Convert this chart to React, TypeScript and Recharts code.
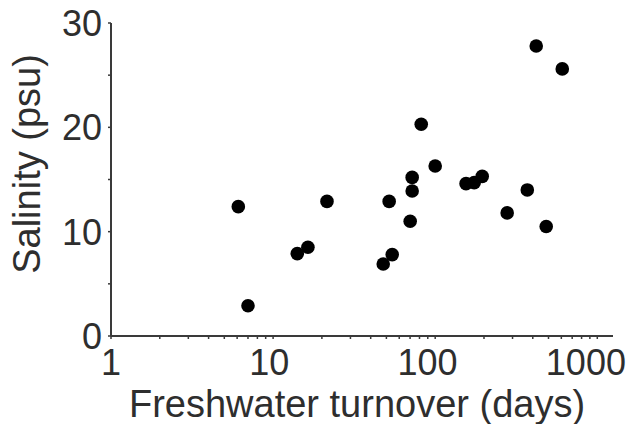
import { ScatterChart, Scatter, XAxis, YAxis } from "recharts";

const turnoverDays = [
  6.1, 7.0, 14.1, 16.4, 21.5, 47.8, 54.3, 52.0, 72.1, 72.1, 70.1, 82.0, 100, 155, 174, 195, 278,
  370, 484, 420, 608,
];
const salinityPsu = [
  12.4, 2.9, 7.9, 8.5, 12.9, 6.9, 7.8, 12.9, 15.2, 13.9, 11.0, 20.3, 16.3, 14.6, 14.7, 15.3, 11.8,
  14.0, 10.5, 27.8, 25.6,
];

const xTicks = [
  1, 2, 3, 4, 5, 6, 7, 8, 9, 10, 20, 30, 40, 50, 60, 70, 80, 90, 100, 200, 300, 400, 500, 600, 700,
  800, 900, 1000,
];
const xLabelled = [1, 10, 100, 1000];
const yTicks = [0, 5, 10, 15, 20, 25, 30];
const yLabelled = [0, 10, 20, 30];

const points = turnoverDays.map((d, i) => ({ days: d, psu: salinityPsu[i] }));

const FONT = '"Liberation Sans", Arial, sans-serif';
const INK = "#2e2e2e";
const AXIS = "#3a3a3a";

// eslint-disable-next-line @typescript-eslint/no-explicit-any
const XTick = (props: any) => {
  const { x, y, payload } = props;
  const v = payload.value;
  // labels in the original sit a little left of their ticks, more so further right
  const shift = -3.8 * Math.log10(v);
  return (
    <g>
      <line x1={x} x2={x} y1={y} y2={y + 3} stroke={AXIS} strokeWidth={1.5} />
      {xLabelled.includes(v) && (
        <text x={x + shift} y={y + 39} textAnchor="middle" fontSize={36} fill={INK} fontFamily={FONT}>
          {v}
        </text>
      )}
    </g>
  );
};

// eslint-disable-next-line @typescript-eslint/no-explicit-any
const YTick = (props: any) => {
  const { x, y, payload } = props;
  const v = payload.value;
  return (
    <g>
      <line x1={x} x2={x - 3} y1={y} y2={y} stroke={AXIS} strokeWidth={1.5} />
      {yLabelled.includes(v) && (
        <text x={x - 9} y={y + 13} textAnchor="end" fontSize={36} fill={INK} fontFamily={FONT}>
          {v}
        </text>
      )}
    </g>
  );
};

export default function App() {
  return (
    <div style={{ width: 631, height: 424, background: "#fff" }}>
      <style>{"body{margin:0}"}</style>
      <ScatterChart width={631} height={424} margin={{ top: 23, right: 18, bottom: 0, left: 0 }}>
        <XAxis
          dataKey="days"
          type="number"
          scale="log"
          domain={[1, 1250]}
          allowDataOverflow
          ticks={xTicks}
          interval={0}
          height={88}
          tickSize={0}
          tickMargin={0}
          tickLine={false}
          axisLine={{ stroke: AXIS, strokeWidth: 2 }}
          tick={XTick}
          label={{
            content: () => (
              <text x={357} y={417} textAnchor="middle" fontSize={38} fill={INK} fontFamily={FONT}>
                Freshwater turnover (days)
              </text>
            ),
          }}
        />
        <YAxis
          dataKey="psu"
          type="number"
          domain={[0, 30]}
          ticks={yTicks}
          interval={0}
          width={111}
          tickSize={0}
          tickMargin={0}
          tickLine={false}
          axisLine={{ stroke: AXIS, strokeWidth: 2 }}
          tick={YTick}
          label={{
            content: () => (
              <text
                x={40}
                y={164}
                transform="rotate(-90, 40, 164)"
                textAnchor="middle"
                fontSize={38}
                fill={INK}
                fontFamily={FONT}
              >
                Salinity (psu)
              </text>
            ),
          }}
        />
        <Scatter
          data={points}
          isAnimationActive={false}
          // eslint-disable-next-line @typescript-eslint/no-explicit-any
          shape={(p: any) => <circle cx={p.cx} cy={p.cy} r={6.8} fill="#000" />}
        />
      </ScatterChart>
    </div>
  );
}
